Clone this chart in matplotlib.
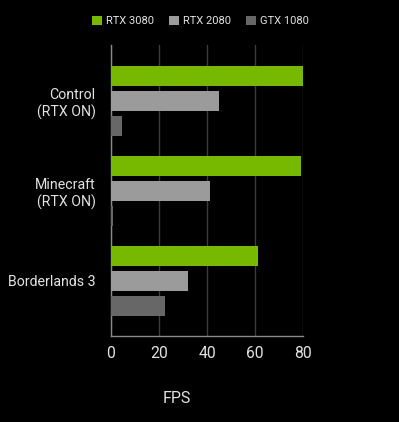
import matplotlib.pyplot as plt
import numpy as np

games = ["Control\n(RTX ON)", "Minecraft\n(RTX ON)", "Borderlands 3"]
gpus = ["RTX 3080", "RTX 2080", "GTX 1080"]
fps_3080 = [80, 79, 61]
fps_2080 = [45, 41, 32]
fps_1080 = [4.5, 0.8, 22.5]

colors = ["#76b900", "#9b9b9b", "#676767"]
txt = "#e2e2e2"

plt.rcParams['font.family'] = ['Roboto', 'DejaVu Sans']

fig = plt.figure(figsize=(3.99, 4.22), dpi=100, facecolor="black")
ax = fig.add_axes([0.2782, 0.2038, 0.4820, 0.6896], facecolor="black")

y = np.arange(len(games))
step = 0.278
for i, (vals, name) in enumerate(zip([fps_3080, fps_2080, fps_1080], gpus)):
    ax.barh(y + (i - 1) * step, vals, height=0.222, color=colors[i], label=name, zorder=3)

ax.set_xlim(0, 80)
ax.set_ylim(2.615, -0.625)
ax.set_xticks([0, 20, 40, 60, 80])
ax.set_yticks(y)
ax.set_yticklabels(games)
ax.grid(axis="x", color="#3c3c3c", linewidth=1, zorder=0)
ax.tick_params(axis="both", length=0, colors=txt)
ax.tick_params(axis="x", labelsize=11.3, pad=7)
ax.tick_params(axis="y", labelsize=10.2, pad=11)
for side in ["top", "right"]:
    ax.spines[side].set_visible(False)
for side in ["left", "bottom"]:
    ax.spines[side].set_color("#8a8a8a")
    ax.spines[side].set_linewidth(1)

ax.set_xlabel("FPS", color=txt, fontsize=11.5, labelpad=22, x=0.344)

ax.legend(loc="center", bbox_to_anchor=(0.5025, 0.950), bbox_transform=fig.transFigure,
          ncol=3, frameon=False, fontsize=8, labelcolor=txt,
          handlelength=0.9, handleheight=0.9, handletextpad=0.4, columnspacing=1.3)

fig.savefig("out.png", dpi=100, facecolor="black")
